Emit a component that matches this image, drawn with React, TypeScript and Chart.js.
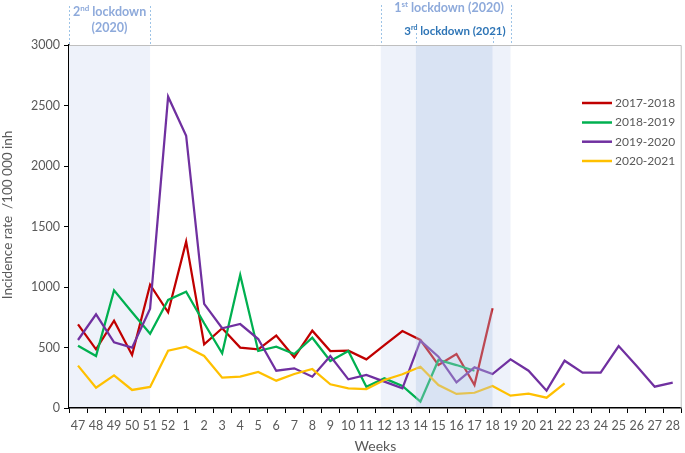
import React, { useEffect, useRef } from 'react';
import { Chart, registerables } from 'chart.js';

Chart.register(...registerables);

const FONT = 'Lato, "Open Sans", sans-serif';

const weeks = ['47', '48', '49', '50', '51', '52', '1', '2', '3', '4', '5', '6', '7', '8', '9', '10', '11', '12', '13', '14', '15', '16', '17', '18', '19', '20', '21', '22', '23', '24', '25', '26', '27', '28'];

const series2017_2018 = [691, 485, 722, 438, 1019, 791, 1375, 526, 659, 499, 485, 598, 419, 639, 471, 474, 402, 520, 636, 562, 355, 446, 190, 824];
const series2018_2019 = [515, 430, 972, 791, 614, 893, 961, 700, 452, 1099, 471, 507, 446, 581, 388, 471, 176, 245, 182, 52, 397, 355, 308];
const series2019_2020 = [562, 774, 543, 499, 821, 2573, 2250, 860, 659, 694, 570, 308, 328, 259, 430, 237, 273, 218, 163, 556, 424, 212, 336, 281, 402, 308, 143, 391, 292, 292, 512, 347, 176, 209];
const series2020_2021 = [350, 168, 270, 149, 174, 474, 507, 430, 251, 259, 298, 226, 281, 322, 196, 163, 157, 231, 279, 341, 190, 116, 126, 182, 102, 118, 85, 204];

const seriesNames = ['2017-2018', '2018-2019', '2019-2020', '2020-2021'];
const seriesColors = ['#C00000', '#00B050', '#7030A0', '#FFC000'];

const yTitle = 'Incidence rate  /100 000 inh';
const xTitle = 'Weeks';

// lockdown spans in category-index units (fractional)
const lockdown2nd = [-0.5, 4];
const lockdown1st = [16.8, 24];
const lockdown3rd = [18.75, 23];

const yMin = 0;
const yMax = 3000;
const yStep = 500;

function pad(arr: number[]) {
  const out: (number | null)[] = [...arr];
  while (out.length < weeks.length) out.push(null);
  return out;
}

function fracX(chart: any, f: number) {
  const x = chart.scales.x;
  const p0 = x.getPixelForValue(0);
  const p1 = x.getPixelForValue(1);
  return p0 + f * (p1 - p0);
}

function drawSupLabel(ctx: CanvasRenderingContext2D, cx: number, y: number, num: string, sup: string, rest: string, size: number, color: string) {
  ctx.save();
  ctx.fillStyle = color;
  ctx.textBaseline = 'middle';
  ctx.textAlign = 'left';
  const big = `bold ${size}px ${FONT}`;
  const small = `bold ${Math.round(size * 0.62)}px ${FONT}`;
  ctx.font = big;
  const w1 = ctx.measureText(num).width;
  const w3 = ctx.measureText(rest).width;
  ctx.font = small;
  const w2 = ctx.measureText(sup).width;
  const total = w1 + w2 + w3;
  let x = cx - total / 2;
  ctx.font = big;
  ctx.fillText(num, x, y);
  x += w1;
  ctx.font = small;
  ctx.fillText(sup, x, y - size * 0.3);
  x += w2;
  ctx.font = big;
  ctx.fillText(rest, x, y);
  ctx.restore();
}

function dashed(ctx: CanvasRenderingContext2D, x: number, y0: number, y1: number) {
  ctx.save();
  ctx.strokeStyle = '#9DC3E6';
  ctx.lineWidth = 1;
  ctx.setLineDash([2, 2]);
  ctx.beginPath();
  ctx.moveTo(Math.round(x) + 0.5, y0);
  ctx.lineTo(Math.round(x) + 0.5, y1);
  ctx.stroke();
  ctx.restore();
}

const lockdownPlugin = {
  id: 'lockdowns',
  beforeDatasetsDraw(chart: any) {
    const { ctx, chartArea } = chart;
    const { top, bottom } = chartArea;
    ctx.save();
    ctx.fillStyle = 'rgb(238,242,250)';
    const a0 = fracX(chart, lockdown2nd[0]);
    const a1 = fracX(chart, lockdown2nd[1]);
    ctx.fillRect(a0, top, a1 - a0, bottom - top - 1);
    const b0 = fracX(chart, lockdown1st[0]);
    const b1 = fracX(chart, lockdown1st[1]);
    ctx.fillRect(b0, top, b1 - b0, bottom - top - 1);
    ctx.restore();
  },
  afterDatasetsDraw(chart: any) {
    const { ctx, chartArea } = chart;
    const { top, bottom } = chartArea;
    ctx.save();
    ctx.fillStyle = 'rgba(180,199,231,0.36)';
    const c0 = fracX(chart, lockdown3rd[0]);
    const c1 = fracX(chart, lockdown3rd[1]);
    ctx.fillRect(c0, top, c1 - c0, bottom - top - 1);
    ctx.restore();
  },
  afterDraw(chart: any) {
    const { ctx, chartArea } = chart;
    const { top, bottom, left, right } = chartArea;
    // plot frame (top & right)
    ctx.save();
    ctx.strokeStyle = '#BFBFBF';
    ctx.lineWidth = 1;
    ctx.beginPath();
    ctx.moveTo(left, top + 0.5);
    ctx.lineTo(right - 0.5, top + 0.5);
    ctx.lineTo(right - 0.5, bottom);
    ctx.stroke();
    ctx.restore();

    // y axis title
    ctx.save();
    ctx.translate(8, 215);
    ctx.rotate(-Math.PI / 2);
    ctx.fillStyle = '#595959';
    ctx.font = `13.5px ${FONT}`;
    ctx.textAlign = 'center';
    ctx.textBaseline = 'middle';
    ctx.fillText(yTitle, 0, 0);
    ctx.restore();

    // dashed markers above plot
    dashed(ctx, fracX(chart, lockdown2nd[0]), 6, top);
    dashed(ctx, fracX(chart, lockdown2nd[1]), 6, top);
    dashed(ctx, fracX(chart, lockdown1st[0]), 5, top);
    dashed(ctx, fracX(chart, lockdown1st[1]), 5, top);
    dashed(ctx, fracX(chart, lockdown3rd[0]), 33, top);
    dashed(ctx, fracX(chart, lockdown3rd[1]), 33, top);

    const light = 'rgb(142,170,219)';
    const c2 = (fracX(chart, lockdown2nd[0]) + fracX(chart, lockdown2nd[1])) / 2;
    drawSupLabel(ctx, c2, 12, '2', 'nd', ' lockdown', 12.5, light);
    ctx.save();
    ctx.fillStyle = light;
    ctx.font = `bold 12.5px ${FONT}`;
    ctx.textAlign = 'center';
    ctx.textBaseline = 'middle';
    ctx.fillText('(2020)', c2, 28);
    ctx.restore();
    drawSupLabel(ctx, 449, 8, '1', 'st', ' lockdown (2020)', 12.5, light);
    drawSupLabel(ctx, 455, 31, '3', 'rd', ' lockdown (2021)', 11.5, '#2E75B6');

    // legend
    ctx.save();
    ctx.font = `12px ${FONT}`;
    ctx.textBaseline = 'middle';
    ctx.textAlign = 'left';
    const rows = [103, 122.5, 141.7, 161];
    seriesNames.forEach((name, i) => {
      const y = rows[i];
      ctx.strokeStyle = seriesColors[i];
      ctx.lineWidth = 2.5;
      ctx.beginPath();
      ctx.moveTo(582, y);
      ctx.lineTo(612, y);
      ctx.stroke();
      ctx.fillStyle = '#595959';
      ctx.fillText(name, 615, y);
    });
    ctx.restore();
  },
};

export default function App() {
  const ref = useRef<HTMLCanvasElement>(null);
  useEffect(() => {
    const canvas = ref.current;
    if (!canvas) return;
    const allSeries = [series2017_2018, series2018_2019, series2019_2020, series2020_2021];
    const chart = new Chart(canvas, {
      type: 'line',
      data: {
        labels: weeks,
        datasets: allSeries.map((s, i) => ({
          label: seriesNames[i],
          data: pad(s),
          borderColor: seriesColors[i],
          backgroundColor: seriesColors[i],
          borderWidth: 2.25,
          pointRadius: 0,
          tension: 0,
          fill: false,
          spanGaps: false,
          order: 3 - i,
        })),
      },
      options: {
        responsive: false,
        animation: false,
        layout: { padding: { top: 45, right: 2, left: 0, bottom: 0 } },
        plugins: {
          legend: { display: false },
          tooltip: { enabled: false },
        },
        scales: {
          x: {
            offset: true,
            grid: { offset: true, drawOnChartArea: false, color: '#000', tickLength: 5, lineWidth: 1 },
            border: { color: '#000', width: 1.5 },
            ticks: { autoSkip: false, maxRotation: 0, color: '#595959', font: { family: FONT, size: 12.5 }, padding: 5 },
            title: { display: true, text: xTitle, color: '#595959', font: { family: FONT, size: 14 }, padding: { top: 0, bottom: -2 } },
            afterFit: (s: any) => { s.height = 45; },
          },
          y: {
            min: yMin,
            max: yMax,
            ticks: { stepSize: yStep, color: '#595959', font: { family: FONT, size: 12.5 }, padding: 4, callback: (v: any) => String(v) },
            grid: { drawOnChartArea: false, color: '#000', tickLength: 5, lineWidth: 1 },
            border: { color: '#000', width: 1.5 },
            title: { display: false },
            afterFit: (s: any) => { s.width = 69; },
          },
        },
      },
      plugins: [lockdownPlugin],
    } as any);
    return () => chart.destroy();
  }, []);
  return (
    <div style={{ position: 'absolute', left: 0, top: 0, width: 685, height: 453 }}>
      <canvas ref={ref} width={685} height={453} />
    </div>
  );
}
